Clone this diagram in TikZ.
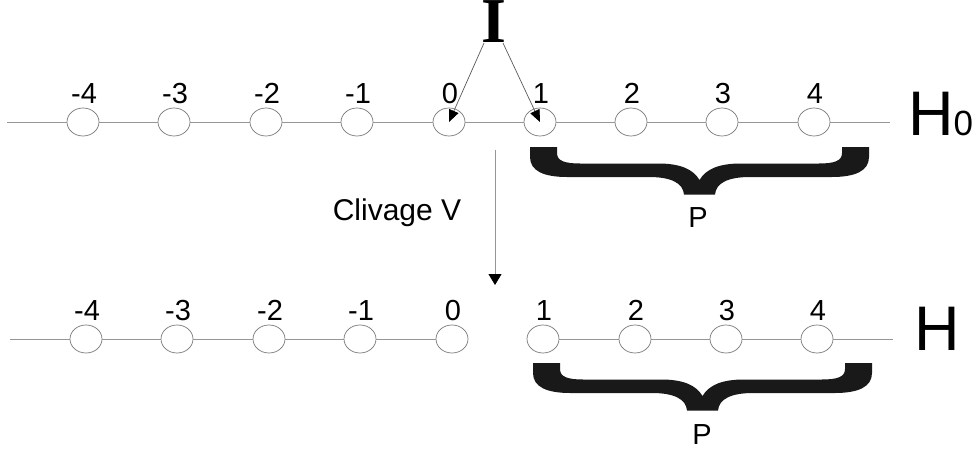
\documentclass[tikz,border=0pt]{standalone}
\usepackage{fontspec}
\setmainfont{Liberation Sans}
\newfontfamily\iserif{Liberation Serif}
\usetikzlibrary{arrows.meta,shapes.geometric}
\definecolor{lgray}{RGB}{150,150,150}
\definecolor{egray}{RGB}{120,120,120}
\definecolor{agray}{RGB}{90,90,90}
\tikzset{
  site/.style={draw=egray, line width=0.7pt, fill=white, ellipse, minimum width=32pt, minimum height=28pt, inner sep=0pt},
  chain/.style={draw=lgray, line width=0.8pt},
  num/.style={font=\fontsize{29}{29}\selectfont, anchor=base, inner sep=0pt},
  lbl/.style={font=\fontsize{29}{29}\selectfont, inner sep=0pt},
  arr/.style={draw=agray, line width=0.7pt, -{Triangle[length=12pt,width=10pt,color=black]}},
  bracepic/.pic={
    \fill[black!90] (0,0) -- (27,0) -- (27,6) .. controls (27,14) and (35,16.5) .. (50,16.5)
      -- (128,16.5) .. controls (150,16.5) and (163,22) .. (169.5,33)
      .. controls (176,22) and (189,16.5) .. (211,16.5) -- (289,16.5)
      .. controls (304,16.5) and (312,14) .. (312,6) -- (312,0) -- (339,0) -- (339,10)
      .. controls (339,24) and (325,30) .. (302,30) -- (220,30)
      .. controls (198,30) and (186,36) .. (185,47.5) -- (154,47.5)
      .. controls (153,36) and (141,30) .. (119,30) -- (37,30)
      .. controls (14,30) and (0,24) .. (0,10) -- cycle;
  }
}
\begin{document}
\begin{tikzpicture}[x=1pt,y=-1pt]
\useasboundingbox (0,0) rectangle (974,452);
\fill[white] (0,0) rectangle (974,452);
% top row
\coordinate (tl) at (7,122);
\coordinate (tr) at (890,122);
\foreach \n/\x in {-4/83,-3/174,-2/266,-1/357,0/449,1/540,2/631,3/722,4/814}{
  \node[site] (t\n) at (\x,122) {};
  \node[num] (tn\n) at (\x+1,103) {\n};
}
\draw[chain] (tl) -- (t-4) -- (t-3) -- (t-2) -- (t-1) -- (t0) -- (t1) -- (t2) -- (t3) -- (t4) -- (tr);
% bottom row
\coordinate (bl) at (10,339);
\coordinate (br) at (893,339);
\foreach \n/\x in {-4/86,-3/177,-2/269,-1/360,0/452,1/543,2/635,3/726,4/817}{
  \node[site] (b\n) at (\x,339) {};
  \node[num] (bn\n) at (\x+1,320) {\n};
}
\draw[chain] (bl) -- (b-4) -- (b-3) -- (b-2) -- (b-1) -- (b0);
\draw[chain] (b1) -- (b2) -- (b3) -- (b4) -- (br);
% I and its arrows
\node[font=\fontsize{64}{64}\selectfont\iserif\bfseries, anchor=base, inner sep=0pt] (I) at (494,43) {I};
\coordinate (Il) at (484,43);
\coordinate (Ir) at (503,43);
\draw[arr] (Il) -- (t0.center);
\draw[arr] (Ir) -- (t1.center);
% cleavage arrow
\coordinate (va) at (495,150);
\coordinate (vb) at (495,285);
\draw[draw=lgray, line width=0.8pt, -{Triangle[length=11pt,width=13pt,color=black]}] (va) -- (vb);
\node[lbl, font=\fontsize{30}{30}\selectfont] (clv) at (397,213) {Clivage V};
% braces
\pic at (530,147) {bracepic};
\pic at (533,363) {bracepic};
\node[lbl] (P1) at (698,218) {P};
\node[lbl] (P2) at (702,435) {P};
% H labels
\node[anchor=base west, inner sep=0pt] (H0) at (908,135) {\fontsize{63}{63}\selectfont H\fontsize{35}{35}\selectfont 0};
\node[anchor=base west, inner sep=0pt] (H) at (914,350) {\fontsize{63}{63}\selectfont H};
\end{tikzpicture}
\end{document}
